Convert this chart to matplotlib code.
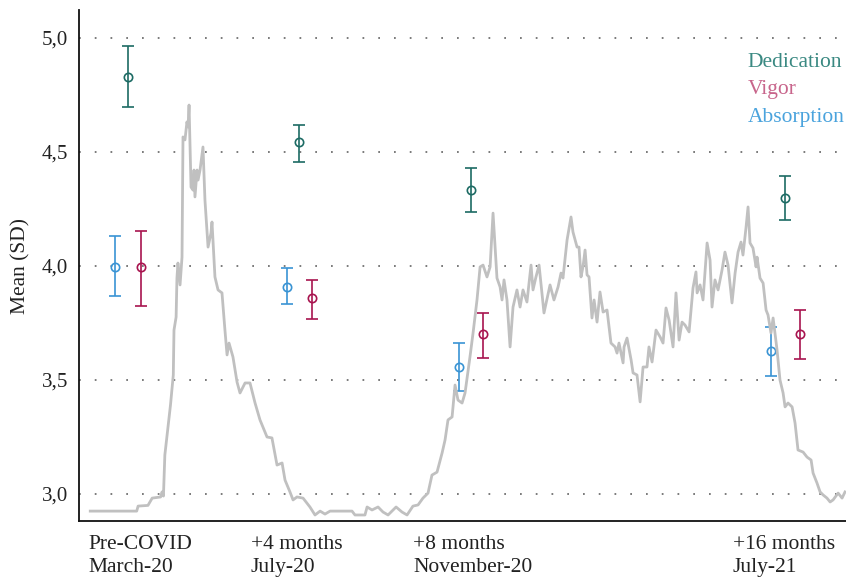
import matplotlib
matplotlib.use("Agg")
import matplotlib.pyplot as plt

plt.rcParams['font.family'] = ['Liberation Serif', 'DejaVu Serif']

# ---- measurement waves (x in days since start of axis) ----
tick_pos = [6.4, 122.2, 237.3, 464.7]
tick_labels = ["Pre-COVID\nMarch-20", "+4 months\nJuly-20", "+8 months\nNovember-20", "+16 months\nJuly-21"]

ded_x = [34.6, 156.3, 278.6, 501.7]
ded_mean = [4.830, 4.545, 4.333, 4.297]
ded_low = [4.699, 4.457, 4.237, 4.202]
ded_high = [4.965, 4.618, 4.431, 4.396]

abs_x = [25.6, 147.8, 270.0, 491.7]
abs_mean = [3.997, 3.909, 3.558, 3.629]
abs_low = [3.868, 3.832, 3.452, 3.519]
abs_high = [4.133, 3.990, 3.664, 3.734]

vig_x = [43.8, 165.6, 287.1, 512.4]
vig_mean = [3.994, 3.858, 3.702, 3.700]
vig_low = [3.825, 3.766, 3.595, 3.591]
vig_high = [4.154, 3.939, 3.793, 3.807]

# ---- background incidence curve (scaled to the mean axis) ----
covid_day = [8, 41, 42, 49, 52, 58, 59, 60, 61, 63, 65, 67, 67.5, 69, 69.6, 70.3, 71.8, 73.2,
             73.9, 75.3, 76.7, 77.5, 78.2, 79.6, 81.0, 81.7, 82.4, 83.9, 84.6, 86.0, 88.1, 89.5,
             91.7, 93.8, 94.5, 96.6, 98.8, 101.6, 103.7, 105.2, 106.6, 109.4, 112.3, 114.4, 118.0,
             121.5, 125.1, 128.6, 133.6, 137.1, 140.7, 144.3, 146.4, 149.9, 152.1, 154.9, 159.2,
             164.1, 167.7, 171.3, 174.8, 178.4, 194.0, 196.1, 203.2, 204.7, 208.2, 212.5, 216.0,
             219.6, 225.3, 229.5, 233.1, 237.3, 240.9, 244.4, 248.0, 250.8, 254.4, 258.0, 260.1,
             262.2, 265.1, 267.2, 269.3, 272.2, 274.3, 277.8, 280.0, 282.8, 285.0, 287.1, 289.9,
             292.1, 294.2, 297.0, 299.2, 300.6, 302.0, 304.1, 306.3, 308.4, 311.2, 313.4, 315.5,
             318.3, 321.2, 322.6, 324.7, 326.9, 330.4, 334.7, 337.5, 340.4, 342.5, 343.9, 346.8,
             349.6, 351.0, 353.9, 355.3, 356.7, 358.1, 359.6, 361.0, 362.4, 364.5, 366.0, 368.1,
             370.2, 372.4, 375.2, 378.0, 380.9, 382.3, 383.7, 386.6, 387.3, 389.4, 392.3, 393.7,
             396.5, 398.7, 400.8, 403.6, 405.0, 407.2, 410.0, 412.9, 415.0, 417.1, 419.3, 422.1,
             424.2, 426.4, 428.5, 430.6, 433.5, 436.3, 438.4, 439.2, 441.3, 443.4, 446.3, 448.4,
             449.8, 451.9, 454.1, 456.9, 459.0, 461.2, 464.0, 466.2, 468.3, 470.4, 471.8, 474.0,
             475.4, 476.8, 478.9, 481.1, 481.8, 483.9, 486.1, 488.2, 489.6, 491.7, 493.2, 496.0,
             498.1, 500.3, 501.7, 503.8, 506.7, 508.8, 510.9, 514.5, 517.3, 520.2, 521.6, 524.4,
             526.6, 528.7, 531.5, 533.7, 535.8, 539.4, 542.2, 544.3]
covid_val = [2.925, 2.925, 2.947, 2.950, 2.982, 2.987, 3.009, 2.991, 3.171, 3.281, 3.390, 3.522,
             3.719, 3.776, 3.947, 4.013, 3.917, 4.039, 4.566, 4.553, 4.632, 4.610, 4.706, 4.346,
             4.333, 4.421, 4.303, 4.421, 4.377, 4.421, 4.522, 4.289, 4.083, 4.145, 4.193, 3.952,
             3.895, 3.882, 3.719, 3.610, 3.662, 3.601, 3.491, 3.443, 3.487, 3.487, 3.399, 3.325,
             3.250, 3.246, 3.127, 3.136, 3.061, 3.009, 2.974, 2.987, 2.982, 2.943, 2.908, 2.925,
             2.912, 2.925, 2.925, 2.908, 2.908, 2.943, 2.930, 2.943, 2.921, 2.908, 2.943, 2.921,
             2.908, 2.947, 2.952, 2.982, 3.004, 3.083, 3.096, 3.180, 3.237, 3.325, 3.338, 3.478,
             3.412, 3.399, 3.443, 3.601, 3.706, 3.851, 3.996, 4.004, 3.952, 3.996, 4.232, 3.947,
             3.908, 3.851, 3.939, 3.851, 3.645, 3.820, 3.895, 3.820, 3.895, 3.842, 4.004, 3.895,
             3.952, 4.004, 3.794, 3.917, 3.851, 3.908, 3.969, 3.947, 4.114, 4.215, 4.149, 4.083,
             4.083, 3.952, 3.996, 4.070, 3.961, 3.952, 3.772, 3.851, 3.754, 3.886, 3.798, 3.807,
             3.662, 3.645, 3.618, 3.662, 3.575, 3.645, 3.684, 3.588, 3.531, 3.522, 3.404, 3.557,
             3.557, 3.645, 3.579, 3.719, 3.689, 3.662, 3.816, 3.763, 3.645, 3.882, 3.675, 3.754,
             3.741, 3.711, 3.904, 3.974, 3.882, 3.917, 3.851, 4.101, 4.026, 3.820, 3.939, 3.895,
             3.982, 4.061, 4.004, 3.838, 3.969, 4.061, 4.105, 4.048, 4.171, 4.259, 4.101, 4.079,
             3.996, 4.039, 3.947, 3.925, 3.807, 3.785, 3.706, 3.772, 3.632, 3.500, 3.443, 3.382,
             3.399, 3.382, 3.311, 3.193, 3.184, 3.162, 3.149, 3.092, 3.048, 3.009, 2.996, 2.982,
             2.965, 2.974, 3.004, 2.982, 3.009]

y_ticks = [3.0, 3.5, 4.0, 4.5, 5.0]
y_tick_labels = ["3,0", "3,5", "4,0", "4,5", "5,0"]

series_names = ["Dedication", "Vigor", "Absorption"]
mark_colors = {"Dedication": "#1d6b64", "Vigor": "#a8144f", "Absorption": "#3a94d4"}
text_colors = {"Dedication": "#3a8982", "Vigor": "#c8668c", "Absorption": "#4aa3dd"}

fig = plt.figure(figsize=(8.46, 5.78), dpi=100)
ax = fig.add_axes([79 / 846, 57 / 578, 767 / 846, 511 / 578])

for yv in y_ticks:
    ax.axhline(yv, color="#7a7a7a", lw=1.4, linestyle=(0, (0.9, 7.2)), zorder=0)

series = {
    "Dedication": (ded_x, ded_mean, ded_low, ded_high),
    "Vigor": (vig_x, vig_mean, vig_low, vig_high),
    "Absorption": (abs_x, abs_mean, abs_low, abs_high),
}
for name in series_names:
    xs, m, lo, hi = series[name]
    yerr = [[mi - l for mi, l in zip(m, lo)], [h - mi for mi, h in zip(m, hi)]]
    ax.errorbar(xs, m, yerr=yerr, fmt="o", color=mark_colors[name], mfc="none",
                mec=mark_colors[name], ms=6, mew=1.2, elinewidth=1.2, capsize=4,
                capthick=1.2, zorder=2)

ax.plot(covid_day, covid_val, color="#c0c0c0", lw=2.0, zorder=3, solid_joinstyle="round")

ax.set_xlim(0, 545)
ax.set_ylim(2.8816, 5.1228)

ax.set_yticks(y_ticks)
ax.set_yticklabels(y_tick_labels, fontsize=15, color="#222222")
ax.set_xticks(tick_pos)
ax.set_xticklabels(tick_labels, fontsize=15.5, color="#222222", linespacing=1.26)
for lab in ax.get_xticklabels():
    lab.set_horizontalalignment("left")
ax.tick_params(axis="both", length=0)
ax.tick_params(axis="y", pad=8)
ax.tick_params(axis="x", pad=10)

ax.set_ylabel("Mean (SD)", fontsize=15.5, color="#222222", labelpad=8)

for s in ["top", "right"]:
    ax.spines[s].set_visible(False)
for s in ["left", "bottom"]:
    ax.spines[s].set_color("#111111")
    ax.spines[s].set_linewidth(1.3)

leg_y = [4.893, 4.775, 4.651]
for name, yv in zip(series_names, leg_y):
    ax.text(0.872, yv, name, transform=ax.get_yaxis_transform(), color=text_colors[name],
            fontsize=15.5, ha="left", va="center")

fig.savefig("out.png", dpi=100)
